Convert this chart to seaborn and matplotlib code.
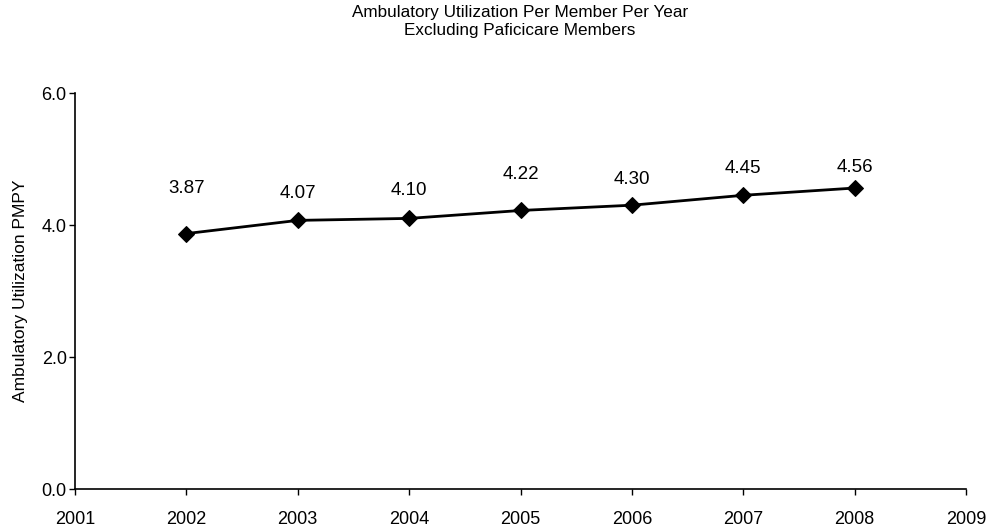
import matplotlib
matplotlib.use("Agg")
import matplotlib.pyplot as plt
import seaborn as sns
import pandas as pd

years = [2002, 2003, 2004, 2005, 2006, 2007, 2008]
values = [3.87, 4.07, 4.10, 4.22, 4.30, 4.45, 4.56]
labels = ["3.87", "4.07", "4.10", "4.22", "4.30", "4.45", "4.56"]
label_offsets_px = [45, 27, 28, 36, 26, 27, 21]
x_ticks = [2001, 2002, 2003, 2004, 2005, 2006, 2007, 2008, 2009]
y_ticks = [0.0, 2.0, 4.0, 6.0]
y_tick_labels = ["0.0", "2.0", "4.0", "6.0"]

sns.set_style("white")
plt.rcParams["font.family"] = ["Liberation Sans", "DejaVu Sans"]
plt.rcParams["text.color"] = "black"

df = pd.DataFrame({"year": years, "value": values})

fig = plt.figure(figsize=(9.89, 5.32), dpi=100)
ax = fig.add_axes([75/989, 1-489/532, (966-75)/989, (489-93)/532])

sns.lineplot(data=df, x="year", y="value", ax=ax, color="black", linewidth=2,
             marker="D", markersize=8, markeredgecolor="black", markerfacecolor="black")

for x, y, t, off in zip(years, values, labels, label_offsets_px):
    ax.annotate(t, (x, y), xytext=(0, off), textcoords="offset pixels",
                ha="center", va="center", fontsize=13.5, color="black")

ax.set_xlim(2001, 2009)
ax.set_ylim(0, 6)
ax.set_xticks(x_ticks)
ax.set_xticklabels([str(v) for v in x_ticks], fontsize=13)
ax.set_yticks(y_ticks)
ax.set_yticklabels(y_tick_labels, fontsize=13)
ax.set_xlabel("")
ax.set_ylabel("Ambulatory Utilization PMPY", fontsize=12.5, labelpad=10, color="black")

for s in ["top", "right"]:
    ax.spines[s].set_visible(False)
for s in ["left", "bottom"]:
    ax.spines[s].set_color("black")
    ax.spines[s].set_linewidth(1.2)
ax.tick_params(axis="both", direction="out", length=4, width=1, color="black",
               bottom=True, left=True, labelcolor="black")
ax.tick_params(axis="x", pad=12)
ax.tick_params(axis="y", pad=2)

fig.text(520/989, 1-13/532, "Ambulatory Utilization Per Member Per Year",
         ha="center", va="center", fontsize=12.3, color="black")
fig.text(520/989, 1-31/532, "Excluding Paficicare Members",
         ha="center", va="center", fontsize=12.3, color="black")

fig.savefig("out.png", dpi=100)
